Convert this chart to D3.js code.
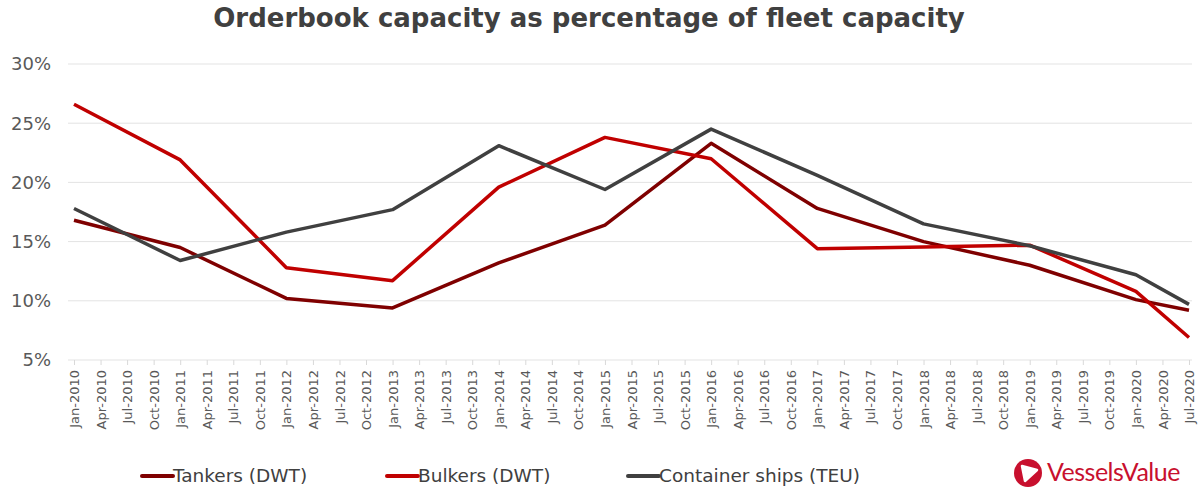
<!DOCTYPE html>
<html>
<head>
<meta charset="utf-8">
<script src="https://cdn.jsdelivr.net/npm/d3@7"></script>
<style>
  body { margin: 0; background: #fff; }
  svg { display: block; font-family: "DejaVu Sans", Verdana, sans-serif; }
</style>
</head>
<body>
<div id="chart"></div>
<script>
// quarterly category labels on the x axis
const quarters = [
  "Jan-2010", "Apr-2010", "Jul-2010", "Oct-2010",
  "Jan-2011", "Apr-2011", "Jul-2011", "Oct-2011",
  "Jan-2012", "Apr-2012", "Jul-2012", "Oct-2012",
  "Jan-2013", "Apr-2013", "Jul-2013", "Oct-2013",
  "Jan-2014", "Apr-2014", "Jul-2014", "Oct-2014",
  "Jan-2015", "Apr-2015", "Jul-2015", "Oct-2015",
  "Jan-2016", "Apr-2016", "Jul-2016", "Oct-2016",
  "Jan-2017", "Apr-2017", "Jul-2017", "Oct-2017",
  "Jan-2018", "Apr-2018", "Jul-2018", "Oct-2018",
  "Jan-2019", "Apr-2019", "Jul-2019", "Oct-2019",
  "Jan-2020", "Apr-2020", "Jul-2020"
];

// dates where the series have values
const obsDates = [
  "Jan-2010", "Jan-2011", "Jan-2012", "Jan-2013", "Jan-2014", "Jan-2015",
  "Jan-2016", "Jan-2017", "Jan-2018", "Jan-2019", "Jan-2020", "Jul-2020"
];

// orderbook as % of fleet
const tankers   = [16.8, 14.5, 10.2, 9.4, 13.2, 16.4, 23.3, 17.8, 15.0, 13.0, 10.1, 9.2];
const bulkers   = [26.6, 21.9, 12.8, 11.7, 19.6, 23.8, 22.0, 14.4, 14.55, 14.7, 10.8, 6.9];
const container = [17.8, 13.4, 15.8, 17.7, 23.1, 19.4, 24.5, 20.6, 16.5, 14.65, 12.2, 9.7];

const yTicks = [5, 10, 15, 20, 25, 30];

const series = [
  { name: "Tankers (DWT)", values: tankers, color: "#7f0000" },
  { name: "Bulkers (DWT)", values: bulkers, color: "#c00000" },
  { name: "Container ships (TEU)", values: container, color: "#404040" }
];

const W = 1200, H = 497;
const svg = d3.select("#chart").append("svg")
  .attr("width", W).attr("height", H);

// title
svg.append("text")
  .attr("x", 589).attr("y", 27)
  .attr("text-anchor", "middle")
  .style("font-size", "26px").style("font-weight", "bold")
  .style("fill", "#404040")
  .text("Orderbook capacity as percentage of fleet capacity");

var x = d3.scalePoint().domain(quarters).range([74, 1189]);
var y = d3.scaleLinear().domain([5, 30]).range([360, 64]);

// gridlines
svg.append("g")
  .selectAll("line")
  .data(yTicks)
  .enter()
  .append("line")
  .attr("x1", 68).attr("x2", 1192)
  .attr("y1", d => y(d)).attr("y2", d => y(d))
  .style("stroke", "#e3e3e3").style("stroke-width", 1);

// y labels
svg.append("g")
  .selectAll("text")
  .data(yTicks)
  .enter()
  .append("text")
  .attr("x", 51).attr("y", d => y(d))
  .attr("dy", "0.35em")
  .attr("text-anchor", "end")
  .style("font-size", "18px").style("fill", "#595959")
  .text(d => d + "%");

// x axis
var xAxis = svg.append("g")
  .attr("transform", "translate(0," + y(5) + ")")
  .call(d3.axisBottom(x).tickSize(5).tickSizeOuter(0));
xAxis.select(".domain").remove();
xAxis.selectAll(".tick line").style("stroke", "#d9d9d9");
xAxis.selectAll(".tick text")
  .attr("transform", "rotate(-90)")
  .attr("x", -10).attr("y", 0).attr("dy", "0.35em")
  .attr("text-anchor", "end")
  .style("font-size", "13px")
  .style("font-family", "'DejaVu Sans', Verdana, sans-serif")
  .style("fill", "#595959");

// lines
var line = d3.line()
  .x((d, i) => x(obsDates[i]))
  .y(d => y(d));

svg.append("g")
  .selectAll("path")
  .data(series)
  .enter()
  .append("path")
  .attr("d", d => line(d.values))
  .style("fill", "none")
  .style("stroke", d => d.color)
  .style("stroke-width", 3.5)
  .style("stroke-linejoin", "round");

// legend
const legendX = [142, 387, 628];
var legend = svg.append("g")
  .selectAll("g")
  .data(series)
  .enter()
  .append("g")
  .attr("transform", (d, i) => "translate(" + legendX[i] + ",476)");
legend.append("line")
  .attr("x1", 0).attr("x2", 31)
  .style("stroke", d => d.color)
  .style("stroke-width", 4)
  .style("stroke-linecap", "round");
legend.append("text")
  .attr("x", 31).attr("dy", "0.35em")
  .style("font-size", "18.5px").style("fill", "#404040")
  .text(d => d.name);

// VesselsValue logo
var logo = svg.append("g").attr("transform", "translate(1028,473)");
logo.append("circle").attr("r", 14).style("fill", "#c8102e");
logo.append("path")
  .attr("d", "M-6,-7 L9,-3 L-3,8 Z")
  .style("fill", "#fff")
  .style("stroke", "#fff").style("stroke-width", 2.5)
  .style("stroke-linejoin", "round");
svg.append("text")
  .attr("x", 1047).attr("y", 481)
  .style("font-family", "Lato, 'Open Sans', sans-serif")
  .style("font-size", "25px")
  .style("fill", "#c8102e")
  .style("letter-spacing", "-0.5px")
  .text("VesselsValue");
</script>
</body>
</html>
